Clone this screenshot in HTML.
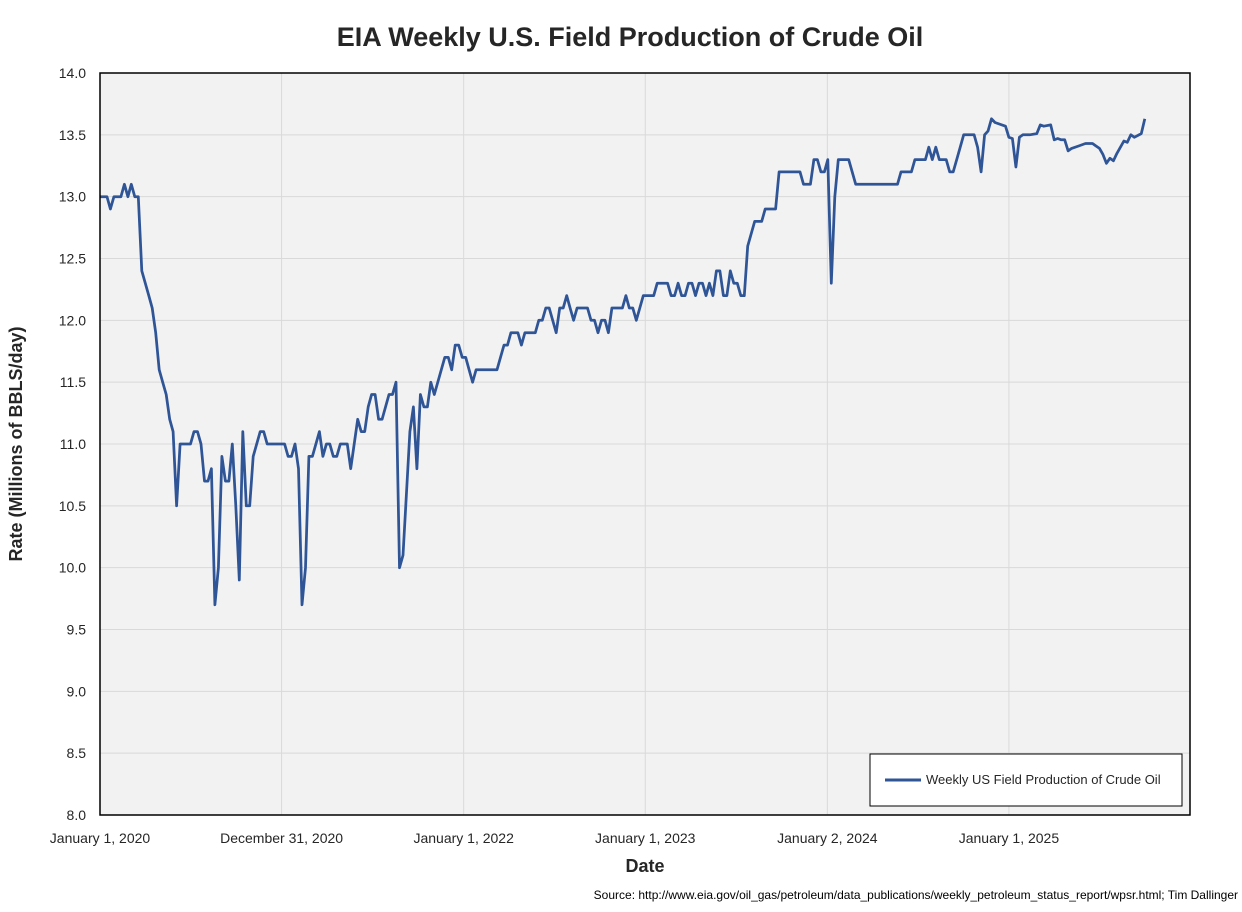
<!DOCTYPE html>
<html><head><meta charset="utf-8"><style>
body{margin:0;background:#fff;font-family:"Liberation Sans",Arial,sans-serif;}
</style></head><body>
<svg id="chart" width="1242" height="907" viewBox="0 0 1242 907" xmlns="http://www.w3.org/2000/svg">
<rect x="0" y="0" width="1242" height="907" fill="#fff"/>
<text x="630" y="46" text-anchor="middle" font-size="27" font-weight="bold" fill="#262626">EIA Weekly U.S. Field Production of Crude Oil</text>
<rect x="100" y="73" width="1090" height="742" fill="#f2f2f2"/>
<g id="grid"></g>
<g id="yticks"></g>
<g id="xticks"></g>
<path id="series" fill="none" stroke="#2f5597" stroke-width="2.75" stroke-linejoin="round"/>
<rect x="100" y="73" width="1090" height="742" fill="none" stroke="#000" stroke-width="1.5"/>
<text x="22" y="444" transform="rotate(-90 22 444)" text-anchor="middle" font-size="18" font-weight="bold" fill="#262626">Rate (Millions of BBLS/day)</text>
<text x="645" y="872" text-anchor="middle" font-size="18" font-weight="bold" fill="#262626">Date</text>
<text x="1238" y="899" text-anchor="end" font-size="12" fill="#000">Source: http://www.eia.gov/oil_gas/petroleum/data_publications/weekly_petroleum_status_report/wpsr.html; Tim Dallinger</text>
<g>
<rect x="870" y="754" width="312" height="52" fill="#fff" stroke="#000" stroke-width="1"/>
<line x1="885" y1="780" x2="921" y2="780" stroke="#2f5597" stroke-width="3"/>
<text x="926" y="784" font-size="13" fill="#262626">Weekly US Field Production of Crude Oil</text>
</g>
</svg>
<script>
const weeks=[0,2,3,4,6,7,8,9,10,11,12,14,15,16,17,18,19,20,21,22,23,26,27,28,29,30,31,32,33,34,35,36,37,38,39,40,41,42,43,44,46,47,48,53,54,55,56,57,58,59,60,61,63,64,65,66,67,68,69,71,72,73,74,75,76,77,78,79,80,81,83,84,85,86,87,89,90,91,92,93,94,95,96,98,99,100,101,102,103,104,105,106,107,108,114,115,116,117,118,120,121,122,125,126,127,128,129,131,132,133,134,135,136,137,140,141,142,143,144,145,146,147,150,151,152,153,154,155,156,159,160,163,164,165,166,167,168,169,170,171,172,173,174,175,176,177,178,179,180,181,182,183,184,185,186,187,188,190,191,194,195,201,202,204,205,206,207,208,209,210,211,212,215,217,229,230,233,234,237,238,239,240,241,243,244,245,246,247,248,251,252,253,254,255,256,257,260,261,262,263,264,265,267,269,270,271,273,274,275,276,277,278,279,281,283,285,286,287,288,289,290,291,292,294,295,296,297,299,300];
const values=[13.0,13.0,12.9,13.0,13.0,13.1,13.0,13.1,13.0,13.0,12.4,12.2,12.1,11.9,11.6,11.5,11.4,11.2,11.1,10.5,11.0,11.0,11.1,11.1,11.0,10.7,10.7,10.8,9.7,10.0,10.9,10.7,10.7,11.0,10.5,9.9,11.1,10.5,10.5,10.9,11.1,11.1,11.0,11.0,10.9,10.9,11.0,10.8,9.7,10.0,10.9,10.9,11.1,10.9,11.0,11.0,10.9,10.9,11.0,11.0,10.8,11.0,11.2,11.1,11.1,11.3,11.4,11.4,11.2,11.2,11.4,11.4,11.5,10.0,10.1,11.1,11.3,10.8,11.4,11.3,11.3,11.5,11.4,11.6,11.7,11.7,11.6,11.8,11.8,11.7,11.7,11.6,11.5,11.6,11.6,11.7,11.8,11.8,11.9,11.9,11.8,11.9,11.9,12.0,12.0,12.1,12.1,11.9,12.1,12.1,12.2,12.1,12.0,12.1,12.1,12.0,12.0,11.9,12.0,12.0,11.9,12.1,12.1,12.2,12.1,12.1,12.0,12.1,12.2,12.2,12.3,12.3,12.2,12.2,12.3,12.2,12.2,12.3,12.3,12.2,12.3,12.3,12.2,12.3,12.2,12.4,12.4,12.2,12.2,12.4,12.3,12.3,12.2,12.2,12.6,12.7,12.8,12.8,12.9,12.9,13.2,13.2,13.1,13.1,13.3,13.3,13.2,13.2,13.3,12.3,13.0,13.3,13.3,13.1,13.1,13.2,13.2,13.3,13.3,13.4,13.3,13.4,13.3,13.3,13.2,13.2,13.3,13.4,13.5,13.5,13.4,13.2,13.5,13.53,13.63,13.6,13.57,13.48,13.47,13.24,13.48,13.5,13.5,13.51,13.58,13.57,13.58,13.46,13.47,13.46,13.46,13.37,13.39,13.41,13.43,13.43,13.41,13.39,13.34,13.27,13.31,13.29,13.35,13.45,13.44,13.5,13.48,13.51,13.63];
const yTicks=[8.0,8.5,9.0,9.5,10.0,10.5,11.0,11.5,12.0,12.5,13.0,13.5,14.0];
const xTickDays=[0,365,731,1096,1462,1827];
const xTickLabels=["January 1, 2020","December 31, 2020","January 1, 2022","January 1, 2023","January 2, 2024","January 1, 2025"];
const X0=100,X1=1190,Y0=815,Y1=73;
const pxPerDay=0.4975;
function xDay(d){return X0+d*pxPerDay;}
function xWeek(w){return xDay(w*7);}
function yVal(v){return Y0-(v-8)/(14-8)*(Y0-Y1);}
const NS="http://www.w3.org/2000/svg";
const grid=document.getElementById('grid'),yt=document.getElementById('yticks'),xt=document.getElementById('xticks');
yTicks.forEach(v=>{
  const y=yVal(v);
  const l=document.createElementNS(NS,'line');
  l.setAttribute('x1',X0);l.setAttribute('x2',X1);l.setAttribute('y1',y);l.setAttribute('y2',y);
  l.setAttribute('stroke','#d9d9d9');l.setAttribute('stroke-width','1');
  
  
  grid.appendChild(l);
  const t=document.createElementNS(NS,'text');
  t.setAttribute('x',X0-14);t.setAttribute('y',y+5);t.setAttribute('text-anchor','end');
  t.setAttribute('font-size','14');t.setAttribute('fill','#262626');
  t.textContent=v.toFixed(1);
  
  
  yt.appendChild(t);
});
xTickDays.forEach((d,i)=>{
  const x=xDay(d);
  if(i>0){
    const l=document.createElementNS(NS,'line');
    l.setAttribute('x1',x);l.setAttribute('x2',x);l.setAttribute('y1',Y1);l.setAttribute('y2',Y0);
    l.setAttribute('stroke','#d9d9d9');l.setAttribute('stroke-width','1');
    
    
    grid.appendChild(l);
  }
  const t=document.createElementNS(NS,'text');
  t.setAttribute('x',x);t.setAttribute('y',Y0+28);t.setAttribute('text-anchor','middle');
  t.setAttribute('font-size','14');t.setAttribute('fill','#262626');
  t.textContent=xTickLabels[i];
  
  
  xt.appendChild(t);
});
let d='';
weeks.forEach((w,i)=>{d+=(i?'L':'M')+xWeek(w).toFixed(1)+' '+yVal(values[i]).toFixed(1);});
document.getElementById('series').setAttribute('d',d);
</script>
</body></html>
